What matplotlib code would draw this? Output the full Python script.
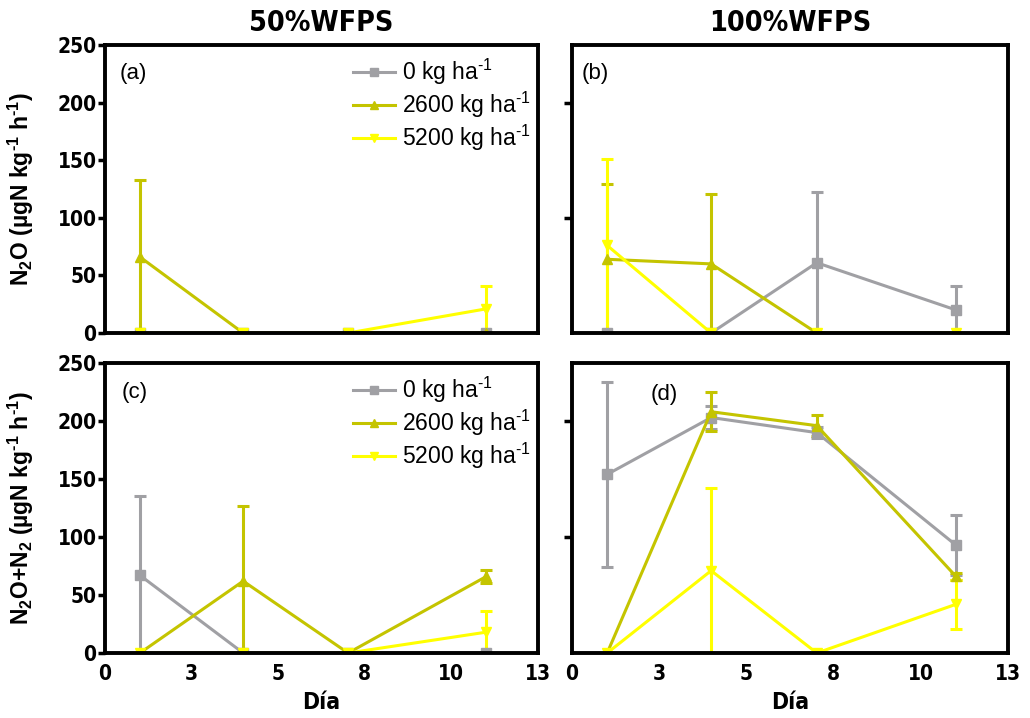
import numpy as np
import matplotlib
matplotlib.use('Agg')
import matplotlib.pyplot as plt
from matplotlib.lines import Line2D

plt.rcParams['font.family'] = ['Liberation Sans', 'DejaVu Sans']
plt.rcParams['mathtext.fontset'] = 'custom'
plt.rcParams['mathtext.rm'] = 'Liberation Sans'
plt.rcParams['mathtext.bf'] = 'Liberation Sans:bold'
plt.rcParams['mathtext.it'] = 'Liberation Sans:italic'

narrow = dict(family='DejaVu Sans', fontstretch='condensed', fontweight='bold')
HY = '\u2010'  # plain hyphen for the exponents

# sampling days (same for every panel)
days = [1.05, 4.15, 7.3, 11.45]

# N2O, 50% WFPS  (a)
n2o_50_0 = [0, 0, 0, 0]
n2o_50_0_err = [0, 0, 0, 0]
n2o_50_2600 = [66, 0, 0, 0]
n2o_50_2600_err = [67, 0, 0, 0]
n2o_50_5200 = [0, 0, 0, 21]
n2o_50_5200_err = [0, 0, 0, 20]

# N2O, 100% WFPS  (b)
n2o_100_0 = [0, 0, 61, 20]
n2o_100_0_err = [0, 0, 61, 21]
n2o_100_2600 = [64, 60, 0, 0]
n2o_100_2600_err = [65, 61, 0, 0]
n2o_100_5200 = [76, 0, 0, 0]
n2o_100_5200_err = [75, 0, 0, 0]

# N2O+N2, 50% WFPS  (c)
tot_50_0 = [67, 0, 0, 0]
tot_50_0_err = [68, 0, 0, 0]
tot_50_2600 = [0, 62, 0, 66]
tot_50_2600_err = [0, 65, 0, 6]
tot_50_5200 = [0, 0, 0, 18]
tot_50_5200_err = [0, 0, 0, 18]

# N2O+N2, 100% WFPS  (d)
tot_100_0 = [154, 203, 190, 93]
tot_100_0_err = [80, 10, 5, 26]
tot_100_2600 = [0, 208, 196, 66]
tot_100_2600_err = [0, 17, 9, 3]
tot_100_5200 = [0, 71, 0, 42]
tot_100_5200_err = [0, 71, 0, 21]

labels = ['0 kg ha$^{' + HY + '1}$', '2600 kg ha$^{' + HY + '1}$', '5200 kg ha$^{' + HY + '1}$']
colors = ['#a0a0a4', '#c4c400', '#ffff00']
markers = ['s', '^', 'v']

xticks = [0, 2.6, 5.2, 7.8, 10.4, 13]
xticklabels = ['0', '3', '5', '8', '10', '13']

fig = plt.figure(figsize=(10.3, 7.18), dpi=100)
ax_a = fig.add_axes([0.1019, 0.5362, 0.4204, 0.4011])
ax_b = fig.add_axes([0.5553, 0.5362, 0.4233, 0.4011])
ax_c = fig.add_axes([0.1019, 0.0905, 0.4204, 0.4039])
ax_d = fig.add_axes([0.5553, 0.0905, 0.4233, 0.4039])

panels = [
    (ax_a, '(a)', (0.035, 0.90), [(n2o_50_0, n2o_50_0_err), (n2o_50_2600, n2o_50_2600_err), (n2o_50_5200, n2o_50_5200_err)]),
    (ax_b, '(b)', (0.023, 0.90), [(n2o_100_0, n2o_100_0_err), (n2o_100_2600, n2o_100_2600_err), (n2o_100_5200, n2o_100_5200_err)]),
    (ax_c, '(c)', (0.039, 0.90), [(tot_50_0, tot_50_0_err), (tot_50_2600, tot_50_2600_err), (tot_50_5200, tot_50_5200_err)]),
    (ax_d, '(d)', (0.18, 0.89), [(tot_100_0, tot_100_0_err), (tot_100_2600, tot_100_2600_err), (tot_100_5200, tot_100_5200_err)]),
]

for ax, tag, tagpos, series in panels:
    for (y, e), c, m in zip(series, colors, markers):
        ax.errorbar(days, y, yerr=e, color=c, marker=m, markersize=7,
                    linewidth=2.2, elinewidth=2.2, capsize=4.5, capthick=2.2)
    ax.set_xlim(0, 13)
    ax.set_ylim(0, 250)
    for s in ax.spines.values():
        s.set_linewidth(2.8)
    ax.text(tagpos[0], tagpos[1], tag, transform=ax.transAxes, fontsize=16,
            va='center', ha='left')
    ax.set_xticks(xticks)
    ax.tick_params(axis='x', length=0, pad=8)

# left column: labelled y axes
for ax in (ax_a, ax_c):
    ax.set_yticks([0, 50, 100, 150, 200, 250])
    ax.set_yticklabels(['0', '50', '100', '150', '200', '250'], fontsize=15, **narrow)
    ax.tick_params(axis='y', length=5, width=2.5, pad=1)

# right column: ticks only
for ax in (ax_b, ax_d):
    ax.set_yticks([100, 200])
    ax.set_yticklabels([])
    ax.tick_params(axis='y', length=6, width=2.5)

for ax in (ax_a, ax_b):
    ax.set_xticklabels([])

for ax in (ax_c, ax_d):
    ax.set_xticklabels(xticklabels, fontsize=15, **narrow)
    ax.set_xlabel('Día', fontsize=16.5, labelpad=5, **narrow)

unit = ' (µgN kg$^{\\mathbf{' + HY + '1}}$ h$^{\\mathbf{' + HY + '1}}$)'
ax_a.set_ylabel('N$_{\\mathbf{2}}$O' + unit, fontweight='bold', fontsize=16.5)
ax_c.set_ylabel('N$_{\\mathbf{2}}$O+N$_{\\mathbf{2}}$' + unit, fontweight='bold', fontsize=16.5)
ax_a.yaxis.set_label_coords(-0.16, 0.5)
ax_c.yaxis.set_label_coords(-0.16, 0.5)

ax_a.set_title('50%WFPS', fontsize=20.5, pad=10, **narrow)
ax_b.set_title('100%WFPS', fontsize=20.5, pad=10, **narrow)

handles = [Line2D([], [], color=c, marker=m, markersize=6, linewidth=2.2)
           for c, m in zip(colors, markers)]
for ax in (ax_a, ax_c):
    ax.legend(handles, labels, loc='upper left', bbox_to_anchor=(0.535, 1.015),
              frameon=False, fontsize=16.5, handlelength=1.85,
              labelspacing=0.12, handletextpad=0.3, borderaxespad=0.3)

plt.savefig('out.png', dpi=100)
